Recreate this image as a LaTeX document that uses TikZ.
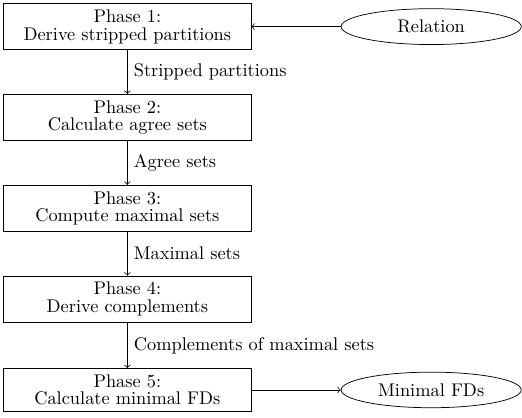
\documentclass[tikz,border=0pt]{standalone}
\usetikzlibrary{shapes.geometric}
\begin{document}
\begin{tikzpicture}[
    phase/.style={rectangle, draw, text width=4.5cm, align=center, font=\linespread{0.8}\selectfont},
    data/.style={ellipse, draw, minimum width=3.45cm}]
  \useasboundingbox (-2.44,0.51) rectangle (7.56,-7.49);
  \node[phase] (p1) at (0, 0) {Phase 1:\\Derive stripped partitions};
  \node[phase] (p2) at (0, -1.74) {Phase 2:\\Calculate agree sets};
  \node[phase] (p3) at (0, -3.48) {Phase 3:\\Compute maximal sets};
  \node[phase] (p4) at (0, -5.22) {Phase 4:\\Derive complements};
  \node[phase] (p5) at (0, -6.96) {Phase 5:\\Calculate minimal FDs};
  \node[data] (rel) at (5.82, 0) {Relation};
  \node[data] (fds) at (5.82, -6.96) {Minimal FDs};
  \draw[->] (rel) -- (p1);
  \draw[->] (p1) -- node[right] {Stripped partitions} (p2);
  \draw[->] (p2) -- node[right] {Agree sets} (p3);
  \draw[->] (p3) -- node[right] {Maximal sets} (p4);
  \draw[->] (p4) -- node[right] {Complements of maximal sets} (p5);
  \draw[->] (p5) -- (fds);
\end{tikzpicture}
\end{document}
